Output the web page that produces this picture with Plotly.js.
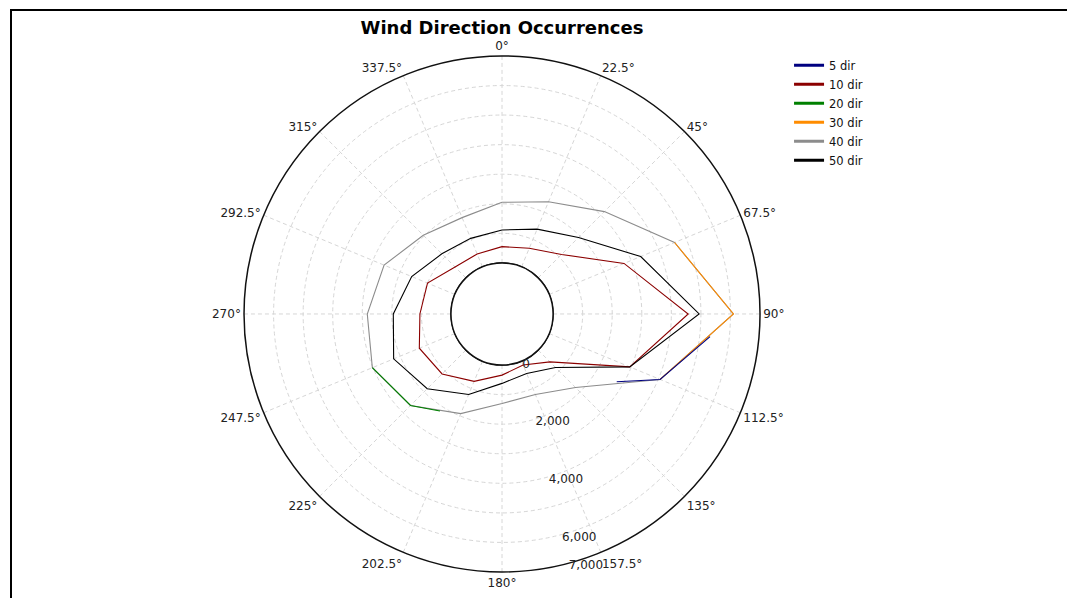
<!DOCTYPE html>
<html>
<head>
<meta charset="utf-8">
<script src="https://cdn.plot.ly/plotly-3.0.1.min.js"></script>
<style>
  html, body { margin: 0; padding: 0; background: #fff; }
  #frame { position: absolute; left: 10px; top: 9px; width: 1070px; height: 600px;
           border-left: 2px solid #000; border-top: 2px solid #000; }
  #chart { position: absolute; left: 0; top: 0; width: 1067px; height: 598px; }
</style>
</head>
<body>
<div id="chart"></div>
<div id="frame"></div>
<script>
// ---- data ----
const DIRS = [0, 22.5, 45, 67.5, 90, 112.5, 135, 157.5, 180, 202.5, 225, 247.5, 270, 292.5, 315, 337.5];
const ANGLE_LABELS = ['0°', '22.5°', '45°', '67.5°', '90°', '112.5°', '135°', '157.5°', '180°',
                      '202.5°', '225°', '247.5°', '270°', '292.5°', '315°', '337.5°'];
const R_TICKS = [0, 1000, 2000, 3000, 4000, 5000, 6000, 7000];
const R_TICK_LABELS = ['0', '', '2,000', '', '4,000', '', '6,000', '7,000'];

const R_10DIR = [550, 680, 1120, 2740, 4570, 2950, 565, 140, 340, 740, 1140, 1300, 1050, 1000, 520, 470];
const R_40DIR = [2050, 2380, 3170, 4590, 6100, 4060, 1790, 1220, 1300, 1920, 2650, 3020, 2830, 2590, 2040, 1800];
const R_50DIR = [1115, 1380, 1930, 3350, 4940, 2950, 830, 450, 620, 1220, 1850, 2240, 1950, 1580, 1150, 1040];

const THETA_5DIR = [96.2, 112.5, 120.6];
const R_5DIR = [5350, 4060, 2780];
const THETA_20DIR = [247.5, 225, 212.6];
const R_20DIR = [3020, 2650, 2170];
const THETA_30DIR = [67.5, 90, 112.5];
const R_30DIR = [4590, 6100, 4060];

const SERIES_NAMES = ['5 dir', '10 dir', '20 dir', '30 dir', '40 dir', '50 dir'];
const SERIES_COLORS = ['#000080', '#8b0000', '#008000', '#ff8c00', '#8c8c8c', '#000000'];

// ---- helpers ----
const closeLoop = a => a.concat([a[0]]);
const holeTheta = [];
for (let a = 0; a <= 360; a += 3) holeTheta.push(a);

function poly(idx, theta, r, closed) {
  return {
    type: 'scatterpolar', mode: 'lines', name: SERIES_NAMES[idx],
    theta: closed ? closeLoop(theta) : theta,
    r: closed ? closeLoop(r) : r,
    line: { color: SERIES_COLORS[idx], width: 1.1 },
    showlegend: false, hoverinfo: 'skip'
  };
}
function legendEntry(idx) {
  return {
    type: 'scatterpolar', mode: 'lines', name: SERIES_NAMES[idx],
    theta: [null], r: [null],
    line: { color: SERIES_COLORS[idx], width: 3 },
    showlegend: true, hoverinfo: 'skip'
  };
}

const traces = [
  { type: 'scatterpolar', mode: 'lines', theta: holeTheta, r: holeTheta.map(() => 0),
    line: { color: '#111', width: 1.2 }, showlegend: false, hoverinfo: 'skip' },
  poly(1, DIRS, R_10DIR, true),
  poly(4, DIRS, R_40DIR, true),
  poly(5, DIRS, R_50DIR, true),
  poly(3, THETA_30DIR, R_30DIR, false),
  poly(0, THETA_5DIR, R_5DIR, false),
  poly(2, THETA_20DIR, R_20DIR, false)
].concat([0, 1, 2, 3, 4, 5].map(legendEntry));

const FONT = 'DejaVu Sans, Verdana, sans-serif';
const RADIAL_ANGLE = -77;
const layout = {
  width: 1067, height: 598,
  paper_bgcolor: '#fff', plot_bgcolor: '#fff',
  margin: { l: 0, r: 0, t: 0, b: 0 },
  font: { family: FONT, size: 12, color: '#222' },
  title: { text: '<b>Wind Direction Occurrences</b>', x: 0.4705, xanchor: 'center',
           y: 0.953, yanchor: 'middle', font: { family: FONT, size: 18, color: '#000' } },
  showlegend: true,
  legend: { x: 0.7395, xanchor: 'left', y: 0.915, yanchor: 'top', bgcolor: 'rgba(0,0,0,0)',
            font: { family: FONT, size: 11.5, color: '#111' }, itemwidth: 30, tracegroupgap: 0,
            traceorder: 'normal' },
  polar: {
    domain: { x: [0.2287, 0.7123], y: [0.0435, 0.9064] },
    hole: 0.198,
    bgcolor: '#fff',
    angularaxis: {
      rotation: 90, direction: 'clockwise',
      tickmode: 'array', tickvals: DIRS, ticktext: ANGLE_LABELS,
      ticks: '', showline: true, linecolor: '#111', linewidth: 1.5,
      showgrid: true, gridcolor: '#d6d6d6', gridwidth: 1, griddash: '4px,3px',
      tickfont: { family: FONT, size: 12, color: '#222' }
    },
    radialaxis: {
      range: [0, 7000], angle: RADIAL_ANGLE, side: 'counterclockwise',
      tickmode: 'array', tickvals: R_TICKS, ticktext: R_TICK_LABELS,
      ticks: '', showline: false,
      showgrid: true, gridcolor: '#d6d6d6', gridwidth: 1, griddash: '4px,3px',
      tickangle: RADIAL_ANGLE,
      tickfont: { family: FONT, size: 12, color: '#222' }
    }
  }
};

Plotly.newPlot('chart', traces, layout, { staticPlot: true, displayModeBar: false });
</script>
</body>
</html>
